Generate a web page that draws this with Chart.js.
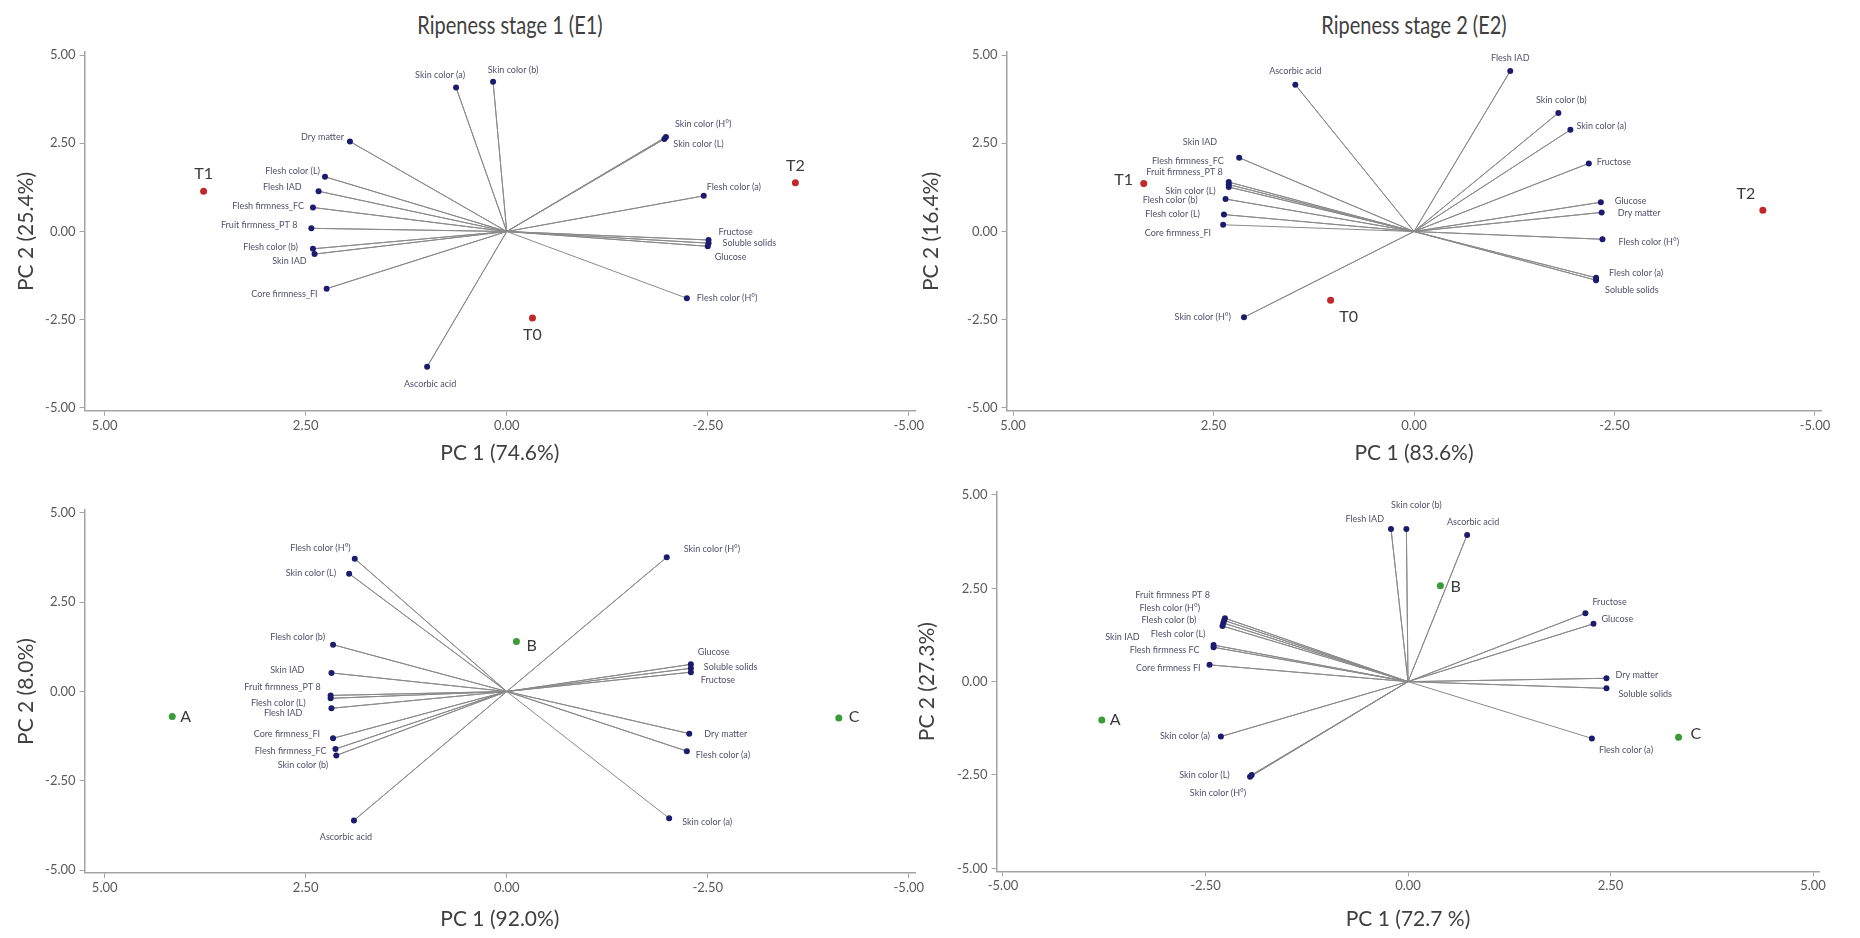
<!DOCTYPE html>
<html>
<head>
<meta charset="utf-8">
<script src="https://cdn.jsdelivr.net/npm/chart.js@4.4.1/dist/chart.umd.min.js"></script>
<style>
  body { margin: 0; background: #fff; width: 1860px; height: 938px; position: relative; overflow: hidden; }
  canvas { position: absolute; }
  .ttl { position: absolute; font: 25px Lato, sans-serif; color: #404040; line-height: 30px;
         transform: translateX(-50%) scaleX(0.8); white-space: nowrap; }
</style>
</head>
<body>
<div class="ttl" style="left:510px; top:9px">Ripeness stage 1 (E1)</div>
<div class="ttl" style="left:1414px; top:9px">Ripeness stage 2 (E2)</div>
<canvas id="e1" width="940" height="470" style="left:0; top:0"></canvas>
<canvas id="e2" width="945" height="470" style="left:915px; top:0"></canvas>
<canvas id="e3" width="940" height="468" style="left:0; top:470px"></canvas>
<canvas id="e4" width="945" height="468" style="left:915px; top:470px"></canvas>
<script>
const tickValues = [-5, -2.5, 0, 2.5, 5];

// stage 1, treatments T0-T2
const e1Vars = ['Skin color (a)', 'Skin color (b)', 'Dry matter', 'Flesh color (L)', 'Flesh IAD',
  'Flesh firmness_FC', 'Fruit firmness_PT 8', 'Flesh color (b)', 'Skin IAD', 'Core firmness_FI',
  'Ascorbic acid', 'Skin color (H°)', 'Skin color (L)', 'Flesh color (a)', 'Fructose',
  'Soluble solids', 'Glucose', 'Flesh color (H°)'];
const e1PC1 = [0.63, 0.17, 1.95, 2.26, 2.34, 2.41, 2.43, 2.41, 2.39, 2.24, 0.99, -1.98, -1.96, -2.45, -2.51, -2.51, -2.50, -2.24];
const e1PC2 = [4.08, 4.24, 2.55, 1.55, 1.14, 0.68, 0.09, -0.49, -0.64, -1.62, -3.83, 2.68, 2.62, 1.01, -0.24, -0.33, -0.42, -1.89];
const e1Samples = ['T0', 'T1', 'T2'];
const e1SamplePC1 = [-0.32, 3.77, -3.59];
const e1SamplePC2 = [-2.45, 1.14, 1.38];

// stage 2, treatments T0-T2
const e2Vars = ['Ascorbic acid', 'Flesh IAD', 'Skin color (b)', 'Skin color (a)', 'Fructose',
  'Glucose', 'Dry matter', 'Flesh color (H°)', 'Flesh color (a)', 'Soluble solids',
  'Skin color (H°)', 'Skin IAD', 'Flesh firmness_FC', 'Fruit firmness_PT 8', 'Skin color (L)',
  'Flesh color (b)', 'Flesh color (L)', 'Core firmness_FI'];
const e2PC1 = [1.48, -1.20, -1.80, -1.95, -2.18, -2.33, -2.34, -2.35, -2.27, -2.27, 2.12, 2.18, 2.31, 2.31, 2.31, 2.35, 2.37, 2.38];
const e2PC2 = [4.16, 4.55, 3.36, 2.88, 1.93, 0.83, 0.54, -0.22, -1.31, -1.38, -2.43, 2.09, 1.40, 1.33, 1.26, 0.92, 0.48, 0.19];
const e2Samples = ['T0', 'T1', 'T2'];
const e2SamplePC1 = [1.04, 3.37, -4.35];
const e2SamplePC2 = [-1.95, 1.36, 0.60];

// stage 1, groups A-C
const e3Vars = ['Flesh color (H°)', 'Skin color (L)', 'Flesh color (b)', 'Skin IAD', 'Fruit firmness_PT 8',
  'Flesh color (L)', 'Flesh IAD', 'Core firmness_FI', 'Flesh firmness_FC', 'Skin color (b)',
  'Ascorbic acid', 'Skin color (H°)', 'Glucose', 'Soluble solids', 'Fructose',
  'Dry matter', 'Flesh color (a)', 'Skin color (a)'];
const e3PC1 = [1.89, 1.96, 2.16, 2.18, 2.19, 2.19, 2.18, 2.16, 2.13, 2.12, 1.90, -1.99, -2.29, -2.29, -2.29, -2.27, -2.24, -2.02];
const e3PC2 = [3.72, 3.30, 1.31, 0.52, -0.11, -0.19, -0.47, -1.31, -1.61, -1.79, -3.61, 3.76, 0.76, 0.65, 0.54, -1.18, -1.67, -3.55];
const e3Samples = ['A', 'B', 'C'];
const e3SamplePC1 = [4.16, -0.12, -4.13];
const e3SamplePC2 = [-0.70, 1.40, -0.74];

// stage 2, groups A-C
const e4Vars = ['Flesh IAD', 'Skin color (b)', 'Ascorbic acid', 'Fruit firmness PT 8', 'Flesh color (H°)',
  'Flesh color (b)', 'Flesh color (L)', 'Skin IAD', 'Flesh firmness FC', 'Core firmness FI',
  'Skin color (a)', 'Skin color (L)', 'Skin color (H°)', 'Fructose', 'Glucose',
  'Dry matter', 'Soluble solids', 'Flesh color (a)'];
const e4PC1 = [-0.21, -0.02, 0.73, -2.26, -2.27, -2.28, -2.29, -2.40, -2.40, -2.45, -2.31, -1.93, -1.95, 2.19, 2.29, 2.45, 2.45, 2.27];
const e4PC2 = [4.09, 4.09, 3.93, 1.70, 1.64, 1.57, 1.49, 0.98, 0.92, 0.45, -1.47, -2.50, -2.55, 1.83, 1.55, 0.09, -0.18, -1.52];
const e4Samples = ['A', 'B', 'C'];
const e4SamplePC1 = [-3.78, 0.40, 3.34];
const e4SamplePC2 = [-1.03, 2.57, -1.49];

// label placement next to each point: [dx, dy, side]  side: l = text left of point, r = right, c = centred
const e1Tags = [[-16,-12,'c'],[20,-12,'c'],[-6,-4,'l'],[-5,-6,'l'],[-17,-4,'l'],[-9,-1,'l'],[-14,-3,'l'],
  [-15,-2,'l'],[-8,7,'l'],[-9,5,'l'],[3,17,'c'],[9,-13,'r'],[9,5,'r'],[3,-9,'r'],[10,-8,'r'],[14,0,'r'],[7,11,'r'],[10,0,'r']];
const e1SampleTags = [[0,17,'c'],[0,-17,'c'],[0,-17,'c']];
const e2Tags = [[0,-14,'c'],[0,-13,'c'],[3,-13,'c'],[6,-4,'r'],[8,-1,'r'],[14,-1,'r'],[16,1,'r'],[16,3,'r'],
  [13,-5,'r'],[9,10,'r'],[-13,0,'l'],[-22,-16,'l'],[-5,-21,'l'],[-6,-12,'l'],[-13,4,'l'],[-28,1,'l'],[-24,0,'l'],[-12,8,'l']];
const e2SampleTags = [[18,17,'c'],[-20,-4,'c'],[-17,-16,'c']];
const e3Tags = [[-4,-11,'l'],[-13,-1,'l'],[-8,-8,'l'],[-27,-3,'l'],[-10,-8,'l'],[-25,5,'l'],[-29,5,'l'],[-13,-4,'l'],
  [-9,2,'l'],[-8,10,'l'],[-8,17,'c'],[17,-8,'r'],[7,-12,'r'],[13,-1,'r'],[10,8,'r'],[15,0,'r'],[9,4,'r'],[13,4,'r']];
const e3SampleTags = [[8,0,'r'],[10,4,'r'],[10,-1,'r']];
const e4Tags = [[-7,-10,'l'],[10,-24,'c'],[6,-13,'c'],[-15,-23,'l'],[-24,-12,'l'],[-27,-3,'l'],[-17,8,'l'],[-74,-8,'l'],
  [-14,3,'l'],[-9,3,'l'],[-11,0,'l'],[-22,0,'l'],[-32,16,'c'],[7,-11,'r'],[8,-5,'r'],[9,-3,'r'],[12,6,'r'],[7,12,'r']];
const e4SampleTags = [[8,0,'r'],[10,1,'r'],[12,-3,'r']];

const alignOf = { l: 'right', r: 'left', c: 'center' };

const biplotText = {
  id: 'biplotText',
  afterDatasetsDraw(chart, args, opts) {
    const ctx = chart.ctx;
    ctx.save();
    ctx.textBaseline = 'middle';
    ctx.font = '9px Lato, sans-serif';
    ctx.fillStyle = '#50506a';
    chart.getDatasetMeta(1).data.forEach((pt, i) => {
      const [dx, dy, side] = opts.varTags[i];
      ctx.textAlign = alignOf[side];
      ctx.fillText(opts.varNames[i], pt.x + dx, pt.y + dy);
    });
    ctx.font = '16px Lato, sans-serif';
    ctx.fillStyle = '#3a3a3a';
    chart.getDatasetMeta(0).data.forEach((pt, i) => {
      const [dx, dy, side] = opts.sampleTags[i];
      ctx.textAlign = alignOf[side];
      ctx.fillText(opts.sampleNames[i], pt.x + dx, pt.y + dy);
    });
    ctx.restore();
  }
};

function biplot(id, cfg) {
  const rays = [];
  cfg.pc1.forEach((x, i) => { rays.push({ x: 0, y: 0 }, { x: x, y: cfg.pc2[i] }); });
  const varPts = cfg.pc1.map((x, i) => ({ x: x, y: cfg.pc2[i] }));
  const samplePts = cfg.s1.map((x, i) => ({ x: x, y: cfg.s2[i] }));
  const axisColor = '#a3a3a3';
  const tickFont = { family: 'Lato, sans-serif', size: 13 };
  const titleFont = { family: 'Lato, sans-serif', size: 21 };

  new Chart(document.getElementById(id), {
    type: 'scatter',
    data: {
      datasets: [
        { data: samplePts, pointRadius: 3.5, pointBackgroundColor: cfg.sampleColor, pointBorderColor: cfg.sampleColor, borderWidth: 0 },
        { data: varPts, pointRadius: 3, pointBackgroundColor: '#1c1c6e', pointBorderColor: '#1c1c6e', borderWidth: 0 },
        { data: rays, showLine: true, pointRadius: 0, borderColor: '#8a8a8a', borderWidth: 1, tension: 0 }
      ]
    },
    options: {
      responsive: false,
      animation: false,
      events: [],
      layout: { padding: cfg.pad },
      plugins: {
        legend: { display: false },
        tooltip: { enabled: false },
        biplotText: { varNames: cfg.vars, varTags: cfg.tags, sampleNames: cfg.samples, sampleTags: cfg.sampleTags }
      },
      scales: {
        x: {
          type: 'linear', reverse: cfg.reverse, min: cfg.xMin, max: cfg.xMax,
          afterBuildTicks: s => { s.ticks = tickValues.map(v => ({ value: v })); },
          afterFit: s => { s.height = cfg.xh; s.paddingLeft = 0; s.paddingRight = 0; },
          grid: { drawOnChartArea: false, drawTicks: true, tickLength: 5, color: axisColor },
          border: { color: axisColor, width: 1.5 },
          ticks: { callback: v => v.toFixed(2), font: tickFont, color: '#595959', padding: 2, maxRotation: 0, autoSkip: false },
          title: { display: true, text: cfg.xTitle, font: titleFont, color: '#404040', padding: 0 }
        },
        y: {
          type: 'linear', min: -5.08, max: 5.08,
          afterBuildTicks: s => { s.ticks = tickValues.map(v => ({ value: v })); },
          afterFit: s => { s.width = cfg.yw; s.paddingTop = 0; s.paddingBottom = 0; },
          grid: { drawOnChartArea: false, drawTicks: true, tickLength: 5, color: axisColor },
          border: { color: axisColor, width: 1.5 },
          ticks: { callback: v => v.toFixed(2), font: tickFont, color: '#595959', padding: 4, autoSkip: false },
          title: { display: true, text: cfg.yTitle, font: titleFont, color: '#404040', padding: 0 }
        }
      }
    },
    plugins: [biplotText]
  });
}

const red = '#c0282a';
const green = '#3b9b3b';

biplot('e1', { vars: e1Vars, pc1: e1PC1, pc2: e1PC2, tags: e1Tags,
  samples: e1Samples, s1: e1SamplePC1, s2: e1SamplePC2, sampleTags: e1SampleTags, sampleColor: red,
  reverse: true, xMin: -5.08, xMax: 5.25, xTitle: 'PC 1 (74.6%)', yTitle: 'PC 2 (25.4%)',
  pad: { left: 13.4, right: 24.8, top: 52.2, bottom: 4.4 }, yw: 71.2, xh: 54.8 });

biplot('e2', { vars: e2Vars, pc1: e2PC1, pc2: e2PC2, tags: e2Tags,
  samples: e2Samples, s1: e2SamplePC1, s2: e2SamplePC2, sampleTags: e2SampleTags, sampleColor: red,
  reverse: true, xMin: -5.08, xMax: 5.08, xTitle: 'PC 1 (83.6%)', yTitle: 'PC 2 (16.4%)',
  pad: { left: 3.4, right: 38.6, top: 52.2, bottom: 4.4 }, yw: 88.2, xh: 54.8 });

biplot('e3', { vars: e3Vars, pc1: e3PC1, pc2: e3PC2, tags: e3Tags,
  samples: e3Samples, s1: e3SamplePC1, s2: e3SamplePC2, sampleTags: e3SampleTags, sampleColor: green,
  reverse: true, xMin: -5.08, xMax: 5.25, xTitle: 'PC 1 (92.0%)', yTitle: 'PC 2 (8.0%)',
  pad: { left: 13.4, right: 24.8, top: 40.1, bottom: 6.4 }, yw: 71.2, xh: 58.7 });

biplot('e4', { vars: e4Vars, pc1: e4PC1, pc2: e4PC2, tags: e4Tags,
  samples: e4Samples, s1: e4SamplePC1, s2: e4SamplePC2, sampleTags: e4SampleTags, sampleColor: green,
  reverse: false, xMin: -5.08, xMax: 5.08, xTitle: 'PC 1 (72.7 %)', yTitle: 'PC 2 (27.3%)',
  pad: { left: 0, right: 40.5, top: 22, bottom: 6.4 }, yw: 81.5, xh: 60.3 });
</script>
</body>
</html>
